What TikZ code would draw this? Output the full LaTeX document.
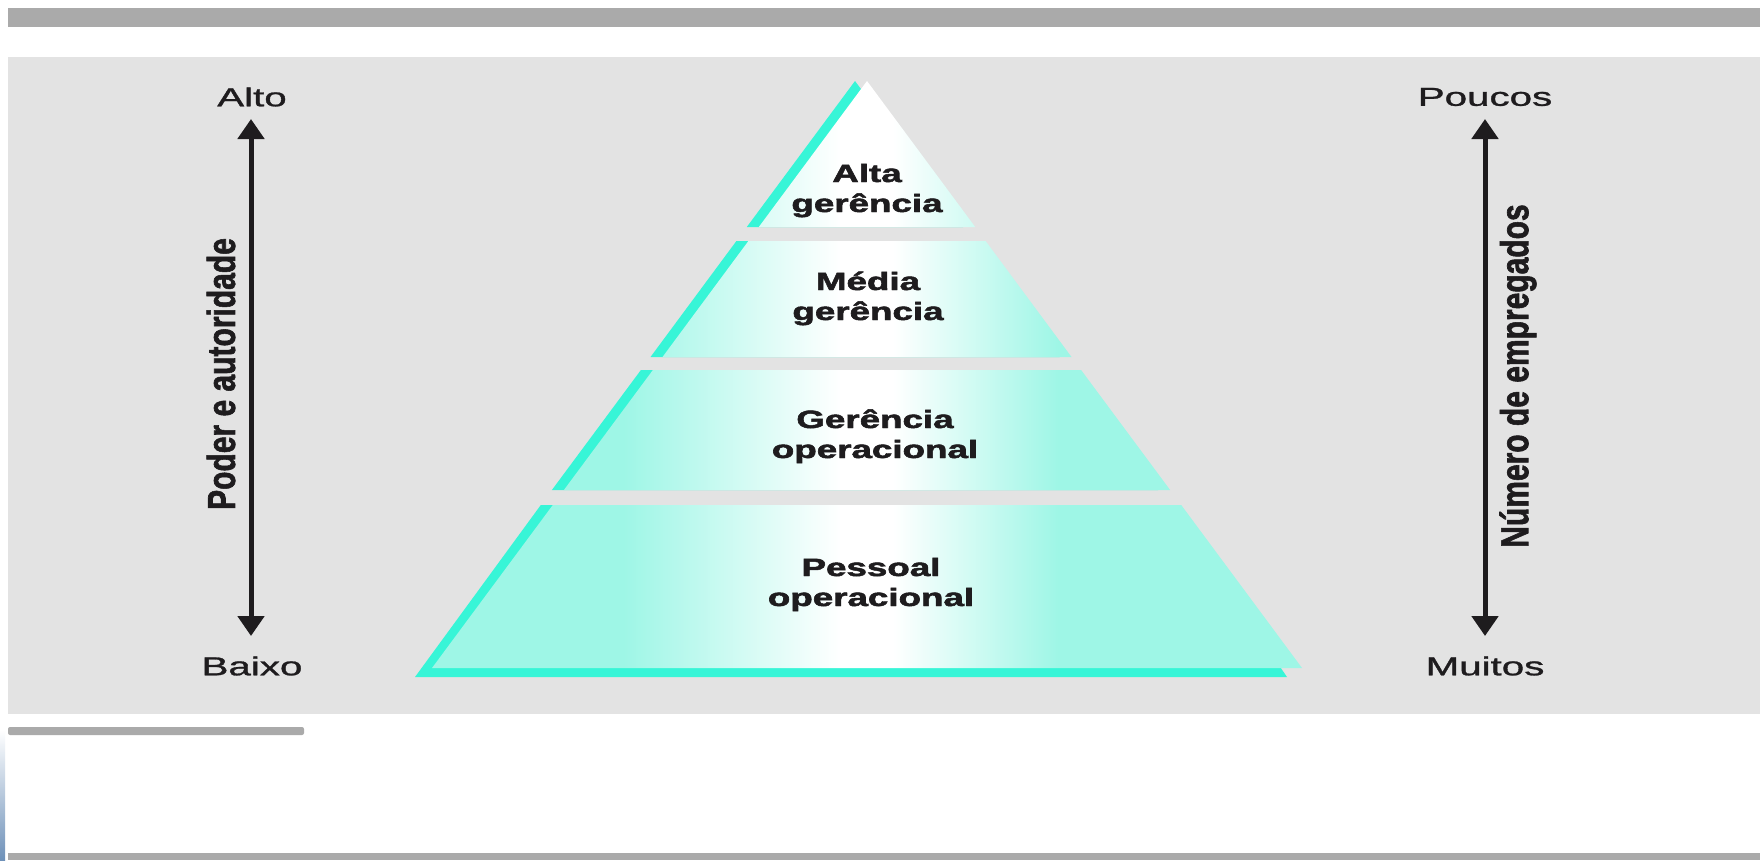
\documentclass[tikz,border=0pt]{standalone}
\usepackage{fontspec}
\setmainfont{Liberation Sans}
\newfontfamily\heavyfont{Liberation Sans Bold}[FakeBold=1.8]
\newfontfamily\medfont{Liberation Sans}[FakeBold=1.0]
\usepackage{graphicx}
\usetikzlibrary{arrows.meta}
\definecolor{bargray}{RGB}{170,170,170}
\definecolor{panelgray}{RGB}{227,227,227}
\definecolor{shadowcyan}{RGB}{55,245,215}
\definecolor{pyrC}{RGB}{158,246,230}
\definecolor{inkc}{RGB}{30,28,30}
\definecolor{edgeblue}{RGB}{110,145,185}
\pgfdeclarehorizontalshading{pyrshade}{100bp}{color(0bp)=(pyrC); color(36bp)=(pyrC); color(48.5bp)=(white); color(51.5bp)=(white); color(61bp)=(pyrC); color(100bp)=(pyrC)}
\begin{document}
\begin{tikzpicture}[x=1pt,y=-1pt,
  tiertext/.style={font=\fontsize{25}{30}\selectfont\heavyfont, align=center, text=inkc, inner sep=0pt},
  endtext/.style={font=\fontsize{26}{30}\selectfont\medfont, text=inkc, inner sep=0pt},
  sidetext/.style={font=\fontsize{30}{36}\selectfont\heavyfont, text=inkc, inner sep=0pt, rotate=90},
  scalearrow/.style={line width=5pt, draw=inkc, {Triangle[width=26pt,length=20pt]}-{Triangle[width=26pt,length=20pt]}},
  barfill/.style={fill=bargray, draw=none},
  shadowfill/.style={fill=shadowcyan, draw=none}]
\useasboundingbox (0,0) rectangle (1760,860);
\fill[white] (0,0) rectangle (1760,860);
% bars and panel
\fill[barfill] (8,8) rectangle (1760,27);
\fill[panelgray] (8,57) rectangle (1760,714);
\fill[barfill, rounded corners=2pt] (8,727) rectangle (304,735);
\fill[barfill] (8,853) rectangle (1760,860);
\shade[top color=white, bottom color=edgeblue] (0,730) rectangle (5,860);
% pyramid shadows
\fill[shadowfill] (855,81) -- (746.8,227) -- (963.2,227) -- cycle;
\fill[shadowfill] (736.4,241) -- (650.5,357) -- (1059.5,357) -- (973.6,241) -- cycle;
\fill[shadowfill] (640.9,370) -- (551.9,490) -- (1158.1,490) -- (1069.1,370) -- cycle;
\fill[shadowfill] (540.8,505) -- (415,677) -- (1287,677) -- (1169.2,505) -- cycle;
% pyramid tiers (one shaded path)
\shade[shading=pyrshade]
  (867,81) -- (758.8,227) -- (975.2,227) -- cycle
  (748.4,241) -- (662.5,357) -- (1071.5,357) -- (985.6,241) -- cycle
  (652.9,370) -- (563.9,490) -- (1170.1,490) -- (1081.1,370) -- cycle
  (552.8,505) -- (432,668) -- (1302,668) -- (1181.2,505) -- cycle;
% tier labels
\node[tiertext] (t1) at (867,191) {\scalebox{1.47}[1]{\begin{tabular}{@{}c@{}}Alta\\gerência\end{tabular}}};
\node[tiertext] (t2) at (868,299) {\scalebox{1.47}[1]{\begin{tabular}{@{}c@{}}Média\\gerência\end{tabular}}};
\node[tiertext] (t3) at (875,437) {\scalebox{1.47}[1]{\begin{tabular}{@{}c@{}}Gerência\\operacional\end{tabular}}};
\node[tiertext] (t4) at (871,585) {\scalebox{1.47}[1]{\begin{tabular}{@{}c@{}}Pessoal\\operacional\end{tabular}}};
% left axis
\node[endtext] (alto) at (252,97) {\scalebox{1.55}[1]{Alto}};
\node[endtext] (baixo) at (252,666) {\scalebox{1.55}[1]{Baixo}};
\coordinate (lt) at (251,119);
\coordinate (lb) at (251,636);
\draw[scalearrow] (lb) -- (lt);
\node[sidetext] (poder) at (221,374) {\scalebox{1}[1.3]{Poder e autoridade}};
% right axis
\node[endtext] (poucos) at (1485,97) {\scalebox{1.55}[1]{Poucos}};
\node[endtext] (muitos) at (1485,666) {\scalebox{1.55}[1]{Muitos}};
\coordinate (rt) at (1485,119);
\coordinate (rb) at (1485,636);
\draw[scalearrow] (rb) -- (rt);
\node[sidetext] (numero) at (1518,376) {\scalebox{1}[1.3]{Número de empregados}};
\end{tikzpicture}
\end{document}
